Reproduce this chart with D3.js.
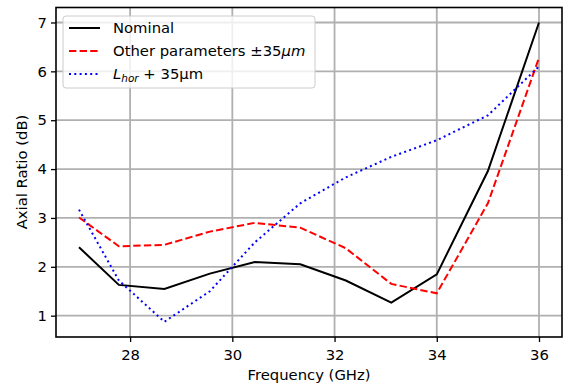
<!DOCTYPE html>
<html>
<head>
<meta charset="utf-8">
<script src="https://cdn.jsdelivr.net/npm/d3@7"></script>
<style>
  body { margin: 0; background: #fff; }
  text { font-family: "DejaVu Sans", sans-serif; }
</style>
</head>
<body>
<svg id="chart" width="563" height="386"></svg>
<script>
// data
var freq = [27, 27.78, 28.67, 29.56, 30.44, 31.33, 32.22, 33.11, 34, 35, 36];
var nominal = [2.40, 1.63, 1.545, 1.86, 2.10, 2.05, 1.72, 1.265, 1.845, 3.96, 7.0];
var otherParams = [3.01, 2.42, 2.45, 2.72, 2.90, 2.80, 2.38, 1.65, 1.457, 3.3, 6.28];
var lhorPlus = [3.17, 1.72, 0.875, 1.5, 2.5, 3.3, 3.83, 4.25, 4.59, 5.1, 6.1];
var xTicks = [28, 30, 32, 34, 36];
var yTicks = [1, 2, 3, 4, 5, 6, 7];

function drawChart() {
  var svg = d3.select("#chart");
  var fs = "14.8px";
  var pLeft = 56, pRight = 562, pTop = 7.5, pBottom = 337;

  var x = d3.scaleLinear().domain([26.55, 36.45]).range([pLeft, pRight]);
  var y = d3.scaleLinear().domain([0.5635, 7.3065]).range([pBottom, pTop]);

  // grid
  var grid = svg.append("g");
  grid.selectAll(".gx").data(xTicks).enter().append("line")
    .attr("x1", function(d) { return x(d); }).attr("x2", function(d) { return x(d); })
    .attr("y1", pTop).attr("y2", pBottom)
    .attr("stroke", "#b0b0b0").attr("stroke-width", 1.8);
  grid.selectAll(".gy").data(yTicks).enter().append("line")
    .attr("y1", function(d) { return y(d); }).attr("y2", function(d) { return y(d); })
    .attr("x1", pLeft).attr("x2", pRight)
    .attr("stroke", "#b0b0b0").attr("stroke-width", 1.8);

  // axes
  var xAxis = d3.axisBottom(x).tickValues(xTicks).tickSize(5).tickPadding(7)
    .tickFormat(d3.format("d"));
  var yAxis = d3.axisLeft(y).tickValues(yTicks).tickSize(5).tickPadding(4)
    .tickFormat(d3.format("d"));

  var gx = svg.append("g").attr("transform", "translate(0," + pBottom + ")").call(xAxis);
  var gy = svg.append("g").attr("transform", "translate(" + pLeft + ",0)").call(yAxis);
  [gx, gy].forEach(function(g) {
    g.select(".domain").remove();
    g.attr("font-size", fs).attr("font-family", "'DejaVu Sans', sans-serif");
    g.selectAll("line").attr("stroke", "#000").attr("stroke-width", 1.3);
    g.selectAll("text").attr("fill", "#000");
  });

  // series
  var line = d3.line()
    .x(function(d, i) { return x(freq[i]); })
    .y(function(d) { return y(d); });

  svg.append("clipPath").attr("id", "clip").append("rect")
    .attr("x", pLeft).attr("y", pTop).attr("width", pRight - pLeft).attr("height", pBottom - pTop);

  var series = [
    { values: nominal, color: "#000000", dash: null },
    { values: otherParams, color: "#ff0000", dash: "7.4,3.2" },
    { values: lhorPlus, color: "#0000ff", dash: "2,3.3" }
  ];

  svg.append("g").attr("clip-path", "url(#clip)").selectAll("path").data(series).enter().append("path")
    .attr("d", function(d) { return line(d.values); })
    .attr("fill", "none")
    .attr("stroke", function(d) { return d.color; })
    .attr("stroke-width", 2)
    .attr("stroke-dasharray", function(d) { return d.dash; });

  // spines
  svg.append("rect")
    .attr("x", pLeft).attr("y", pTop).attr("width", pRight - pLeft).attr("height", pBottom - pTop)
    .attr("fill", "none").attr("stroke", "#000").attr("stroke-width", 1.6);

  // axis labels
  svg.append("text").attr("x", (pLeft + pRight) / 2).attr("y", 380)
    .attr("text-anchor", "middle").attr("font-size", fs).text("Frequency (GHz)");
  svg.append("text").attr("transform", "translate(27,172) rotate(-90)")
    .attr("text-anchor", "middle").attr("font-size", fs).text("Axial Ratio (dB)");

  // legend
  var legend = svg.append("g");
  legend.append("rect")
    .attr("x", 63).attr("y", 16).attr("width", 252).attr("height", 72)
    .attr("rx", 3).attr("fill", "#fff").attr("fill-opacity", 0.8)
    .attr("stroke", "#cccccc").attr("stroke-width", 1);

  var rows = [28, 51, 74];
  series.forEach(function(s, i) {
    legend.append("line")
      .attr("x1", 69).attr("x2", 100).attr("y1", rows[i]).attr("y2", rows[i])
      .attr("stroke", s.color).attr("stroke-width", 2)
      .attr("stroke-dasharray", s.dash);
  });

  legend.append("text").attr("x", 113).attr("y", rows[0] + 5)
    .attr("font-size", fs).text("Nominal");

  var t2 = legend.append("text").attr("x", 113).attr("y", rows[1] + 5).attr("font-size", fs);
  t2.append("tspan").text("Other parameters \u00b135");
  t2.append("tspan").attr("font-style", "italic").text("\u03bcm");

  var t3 = legend.append("text").attr("x", 113).attr("y", rows[2] + 5).attr("font-size", fs);
  t3.append("tspan").attr("font-style", "italic").text("L");
  t3.append("tspan").attr("font-style", "italic").attr("font-size", "10.5px").attr("dy", 3).text("hor");
  t3.append("tspan").attr("dy", -3).text(" + 35\u03bcm");
}

drawChart();
</script>
</body>
</html>
